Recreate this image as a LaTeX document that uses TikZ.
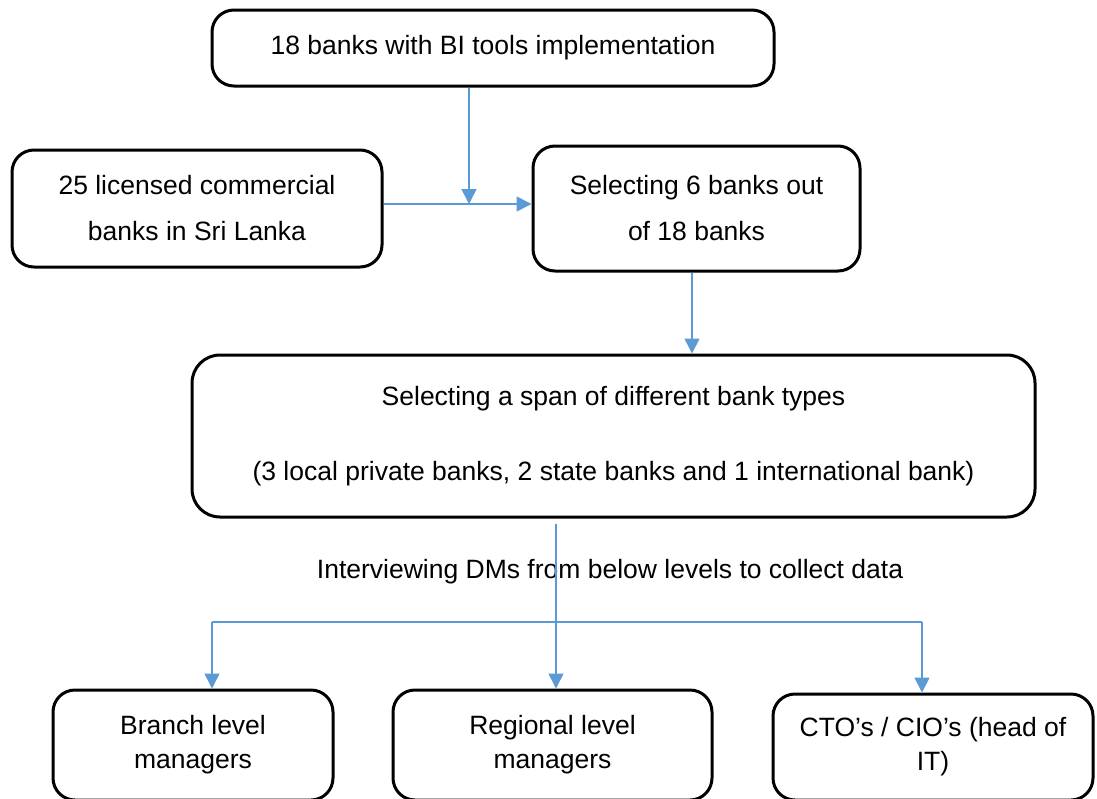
\documentclass[tikz,border=0pt]{standalone}
\usepackage{fontspec}
\setmainfont{Liberation Sans}
\usetikzlibrary{arrows.meta}
\definecolor{connblue}{HTML}{5B9BD5}
\tikzset{
  box/.style={draw=black, line width=3pt, rounded corners=22pt, align=center, inner sep=0pt},
  conn/.style={draw=connblue, line width=1.6pt, -{Triangle[length=15pt,width=15pt]}},
  connline/.style={draw=connblue, line width=1.6pt},
  wide/.style={font=\fontsize{26.5}{46}\selectfont},
  tight/.style={font=\fontsize{26.5}{34}\selectfont},
}
\begin{document}
\begin{tikzpicture}[x=1pt,y=-1pt]
\useasboundingbox (0,0) rectangle (1097,798);
\node[box, wide, minimum width=562pt, minimum height=76pt] (top) at (493,48) {\raisebox{6pt}{18 banks with BI tools implementation}};
\node[box, wide, minimum width=370pt, minimum height=117pt] (left) at (197,208.5) {25 licensed commercial\\banks in Sri Lanka};
\node[box, wide, minimum width=327pt, minimum height=125pt] (sel) at (696.5,208.5) {Selecting 6 banks out\\of 18 banks};
\node[box, font=\fontsize{26.5}{75}\selectfont, rounded corners=28pt, minimum width=843pt, minimum height=162pt] (big) at (613.5,436) {Selecting a span of different bank types\\(3 local private banks, 2 state banks and 1 international bank)};
\node[box, tight, minimum width=280pt, minimum height=110pt] (branch) at (193,745) {Branch level\\managers};
\node[box, tight, minimum width=319pt, minimum height=110pt] (regional) at (552.5,745) {Regional level\\managers};
\node[box, tight, minimum width=320pt, minimum height=106pt] (cto) at (933,747) {CTO’s / CIO’s (head of\\IT)};
\node[font=\fontsize{26.5}{32}\selectfont, inner sep=0pt] (lbl) at (610,572) {Interviewing DMs from below levels to collect data};
% connectors
\coordinate (j1) at (469,204);
\draw[conn] (top.south -| j1) -- (j1);
\draw[conn] (left.east |- j1) -- (sel.west |- j1);
\coordinate (c2) at (692,300);
\draw[conn] (c2 |- sel.south) -- (c2 |- big.north);
\coordinate (c3) at (556,524);
\draw[conn] (c3) -- (c3 |- regional.north);
\coordinate (hl) at (212,622);
\coordinate (hr) at (922,622);
\draw[connline] (hl) -- (hr);
\draw[conn] (hl) -- (hl |- branch.north);
\draw[conn] (hr) -- (hr |- cto.north);
\end{tikzpicture}
\end{document}
